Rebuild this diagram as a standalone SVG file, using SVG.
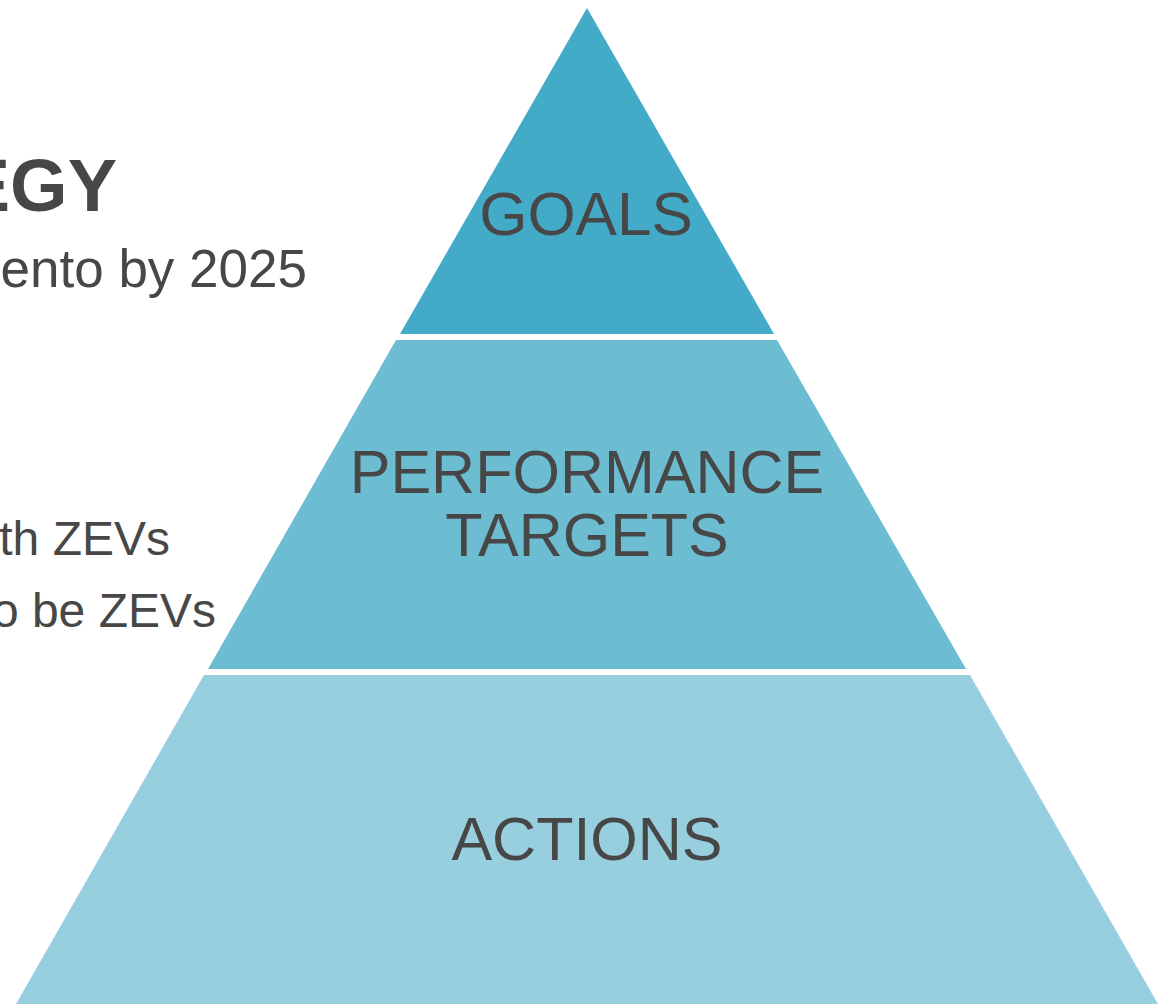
<svg xmlns="http://www.w3.org/2000/svg" width="1167" height="1004" viewBox="0 0 1167 1004">
<style>
text{font-family:"Liberation Sans",Arial,sans-serif;fill:#474747}
.lbl{font-size:61px;text-anchor:middle}
.side{font-size:48px;text-anchor:end}
</style>
<rect width="1167" height="1004" fill="#ffffff"/>
<g id="side-text">
<text x="117" y="211" style="font-size:74px;font-weight:bold;text-anchor:end">EGY</text>
<text class="side" x="307" y="287" style="font-size:53px">ento by 2025</text>
<text class="side" x="170" y="555">th ZEVs</text>
<text class="side" x="216" y="627">o be ZEVs</text>
</g>
<g id="goals">
<polygon points="587,8 774,334 400,334" fill="#43ABC7"/>
<text class="lbl" x="586" y="235" style="font-size:62px">GOALS</text>
</g>
<g id="performance-targets">
<polygon points="396,340 777,340 966,669 208,669" fill="#6CBDD2"/>
<text class="lbl" x="587" y="493">PERFORMANCE</text>
<text class="lbl" x="587" y="556">TARGETS</text>
</g>
<g id="actions">
<polygon points="204,675 970,675 1158,1004 16,1004" fill="#97CFDE"/>
<text class="lbl" x="587" y="860">ACTIONS</text>
</g>
<g id="connectors"/>
</svg>
